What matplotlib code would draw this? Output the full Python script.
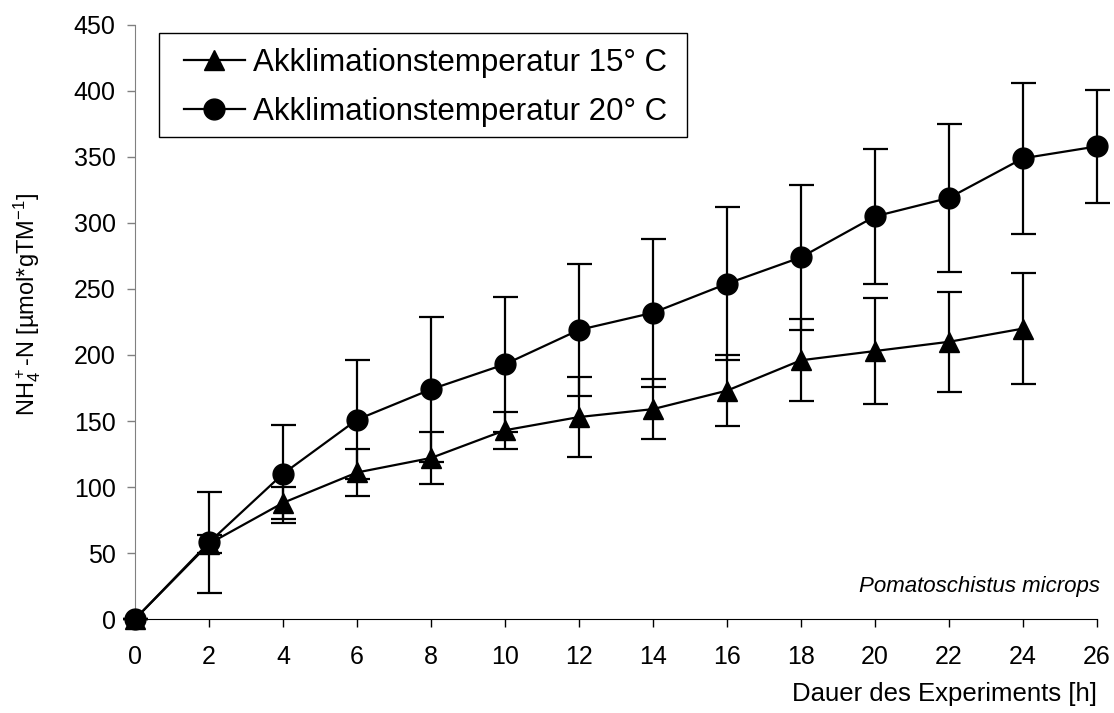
import numpy as np
import matplotlib
matplotlib.use('Agg')
import matplotlib.pyplot as plt
from matplotlib.lines import Line2D
from matplotlib.patches import Rectangle

plt.rcParams['font.family'] = ['Liberation Sans', 'DejaVu Sans']
plt.rcParams['mathtext.fontset'] = 'custom'
plt.rcParams['mathtext.rm'] = 'Liberation Sans'
plt.rcParams['mathtext.it'] = 'Liberation Sans:italic'

# data
hours = [0, 2, 4, 6, 8, 10, 12, 14, 16, 18, 20, 22, 24, 26]
t15_hours = hours[:-1]
t15_mean = [0, 57, 88, 111, 122, 143, 153, 159, 173, 196, 203, 210, 220]
t15_err = [0, 7, 12, 18, 20, 14, 30, 23, 27, 31, 40, 38, 42]
t20_mean = [0, 58, 110, 151, 174, 193, 219, 232, 254, 274, 305, 319, 349, 358]
t20_err = [0, 38, 37, 45, 55, 51, 50, 56, 58, 55, 51, 56, 57, 43]

label15 = 'Akklimationstemperatur 15° C'
label20 = 'Akklimationstemperatur 20° C'
x_ticks = list(range(0, 27, 2))
y_ticks = list(range(0, 451, 50))

fig = plt.figure(figsize=(11.14, 7.13), dpi=100)
ax = fig.add_axes([0.1212, 0.1318, 0.8635, 0.8332])

ax.errorbar(t15_hours, t15_mean, yerr=t15_err, color='black', marker='^',
            markersize=15, linewidth=1.6, elinewidth=1.6, capsize=9, capthick=1.6,
            clip_on=False, zorder=3)
ax.errorbar(hours, t20_mean, yerr=t20_err, color='black', marker='o',
            markersize=15, linewidth=1.6, elinewidth=1.6, capsize=9, capthick=1.6,
            clip_on=False, zorder=3)

ax.set_xlim(0, 26)
ax.set_ylim(0, 450)
ax.set_xticks(x_ticks)
ax.set_yticks(y_ticks)
ax.tick_params(axis='both', labelsize=18, direction='out', length=6, width=1)
ax.tick_params(axis='y', colors='#808080', labelcolor='black', pad=8)
ax.tick_params(axis='x', pad=13)
ax.spines['top'].set_visible(False)
ax.spines['right'].set_visible(False)
ax.spines['left'].set_color('#808080')
ax.spines['bottom'].set_color('black')

ax.set_ylabel(r'NH$_4^+$-N [µmol*gTM$^{-1}$]', fontsize=17, va='center')
ax.yaxis.set_label_coords(-0.112, 0.53)
ax.set_xlabel('Dauer des Experiments [h]', fontsize=18.5, loc='right', va='center')
ax.xaxis.set_label_coords(1.0, -0.126)

ax.text(1.003, 0.054, 'Pomatoschistus microps', transform=ax.transAxes,
        ha='right', va='center', fontsize=16, style='italic')

# legend: no error bars in the keys, frame drawn separately
handles = [Line2D([], [], color='black', marker='^', markersize=15, linewidth=1.6),
           Line2D([], [], color='black', marker='o', markersize=15, linewidth=1.6)]
ax.legend(handles, [label15, label20], loc='upper left',
          bbox_to_anchor=(184 / 1114, 1 - 48 / 713), bbox_transform=fig.transFigure,
          fontsize=22.5, frameon=False, handlelength=1.95, handletextpad=0.25,
          labelspacing=0.6, borderpad=0, borderaxespad=0)
fig.patches.append(Rectangle((159 / 1114, 1 - 137 / 713), 528 / 1114, 104 / 713,
                             transform=fig.transFigure, fill=False,
                             edgecolor='black', linewidth=1.0))

fig.savefig('out.png', dpi=100)
